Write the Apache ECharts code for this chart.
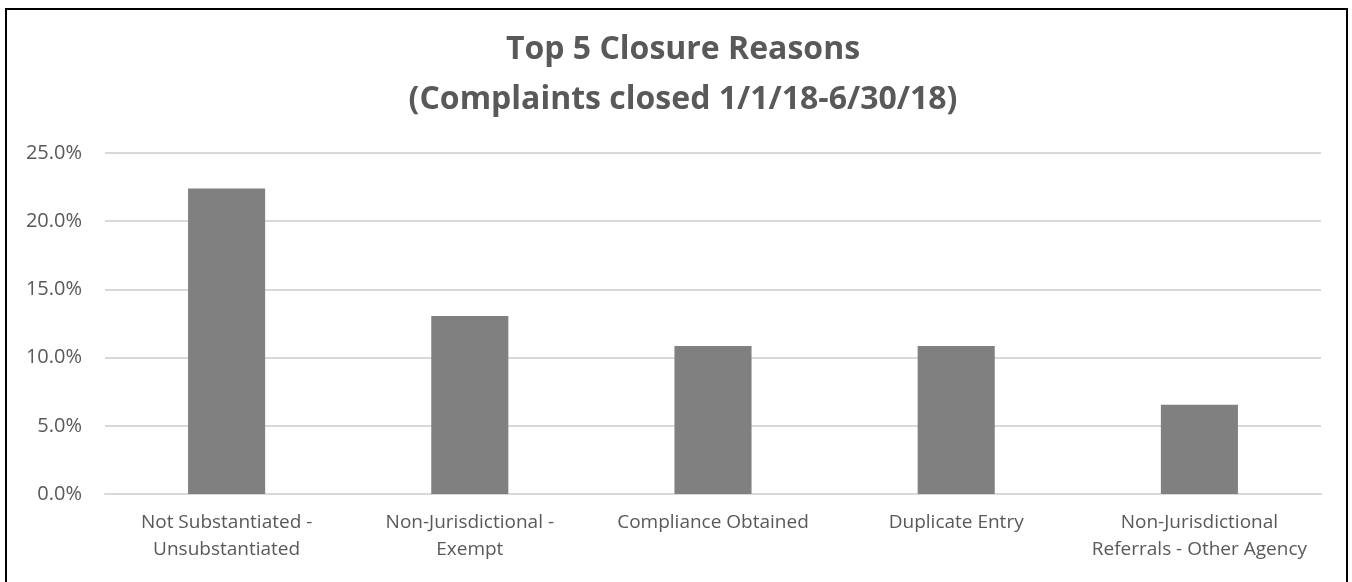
<!DOCTYPE html>
<html>
<head>
<meta charset="utf-8">
<script src="https://cdn.jsdelivr.net/npm/echarts@6/dist/echarts.min.js"></script>
<style>
  html, body { margin: 0; padding: 0; background: #fff; overflow: hidden; }
  #frame { position: absolute; left: 5px; top: 8px; width: 1343px; height: 600px; border: 2px solid #000; box-sizing: border-box; }
  #chart { position: absolute; left: 0; top: 0; width: 1352px; height: 582px; }
</style>
</head>
<body>
<div id="frame"></div>
<div id="chart"></div>
<script>
const titleLines = ['Top 5 Closure Reasons', '(Complaints closed 1/1/18-6/30/18)'];
const categories = [
  'Not Substantiated -\nUnsubstantiated',
  'Non-Jurisdictional -\nExempt',
  'Compliance Obtained',
  'Duplicate Entry',
  'Non-Jurisdictional\nReferrals - Other Agency'
];
const shares = [22.4, 13.05, 10.85, 10.85, 6.55];
const yTicks = { min: 0, max: 25, interval: 5 };

const chart = echarts.init(document.getElementById('chart'), null, { renderer: 'canvas' });
chart.setOption({
  backgroundColor: 'transparent',
  animation: false,
  title: {
    text: titleLines.join('\n'),
    left: 678,
    textAlign: 'center',
    top: 20,
    textStyle: {
      fontFamily: 'Open Sans',
      fontWeight: 'bold',
      fontSize: 32,
      lineHeight: 50,
      color: '#595959'
    }
  },
  grid: { left: 105, right: 31, top: 153, bottom: 88, containLabel: false },
  xAxis: {
    type: 'category',
    data: categories,
    axisLine: { show: true, lineStyle: { color: '#d9d9d9', width: 2 } },
    axisTick: { show: false },
    axisLabel: {
      interval: 0,
      margin: 15,
      fontFamily: 'Open Sans',
      fontSize: 19,
      lineHeight: 27,
      color: '#595959'
    }
  },
  yAxis: {
    type: 'value',
    min: yTicks.min,
    max: yTicks.max,
    interval: yTicks.interval,
    axisLine: { show: false },
    axisTick: { show: false },
    splitLine: { lineStyle: { color: '#d9d9d9', width: 2 } },
    axisLabel: {
      margin: 23,
      fontFamily: 'Open Sans',
      fontSize: 20,
      color: '#595959',
      formatter: v => v.toFixed(1) + '%'
    }
  },
  series: [{
    type: 'bar',
    data: shares,
    barWidth: '31.7%',
    itemStyle: { color: '#808080' }
  }]
});
</script>
</body>
</html>
